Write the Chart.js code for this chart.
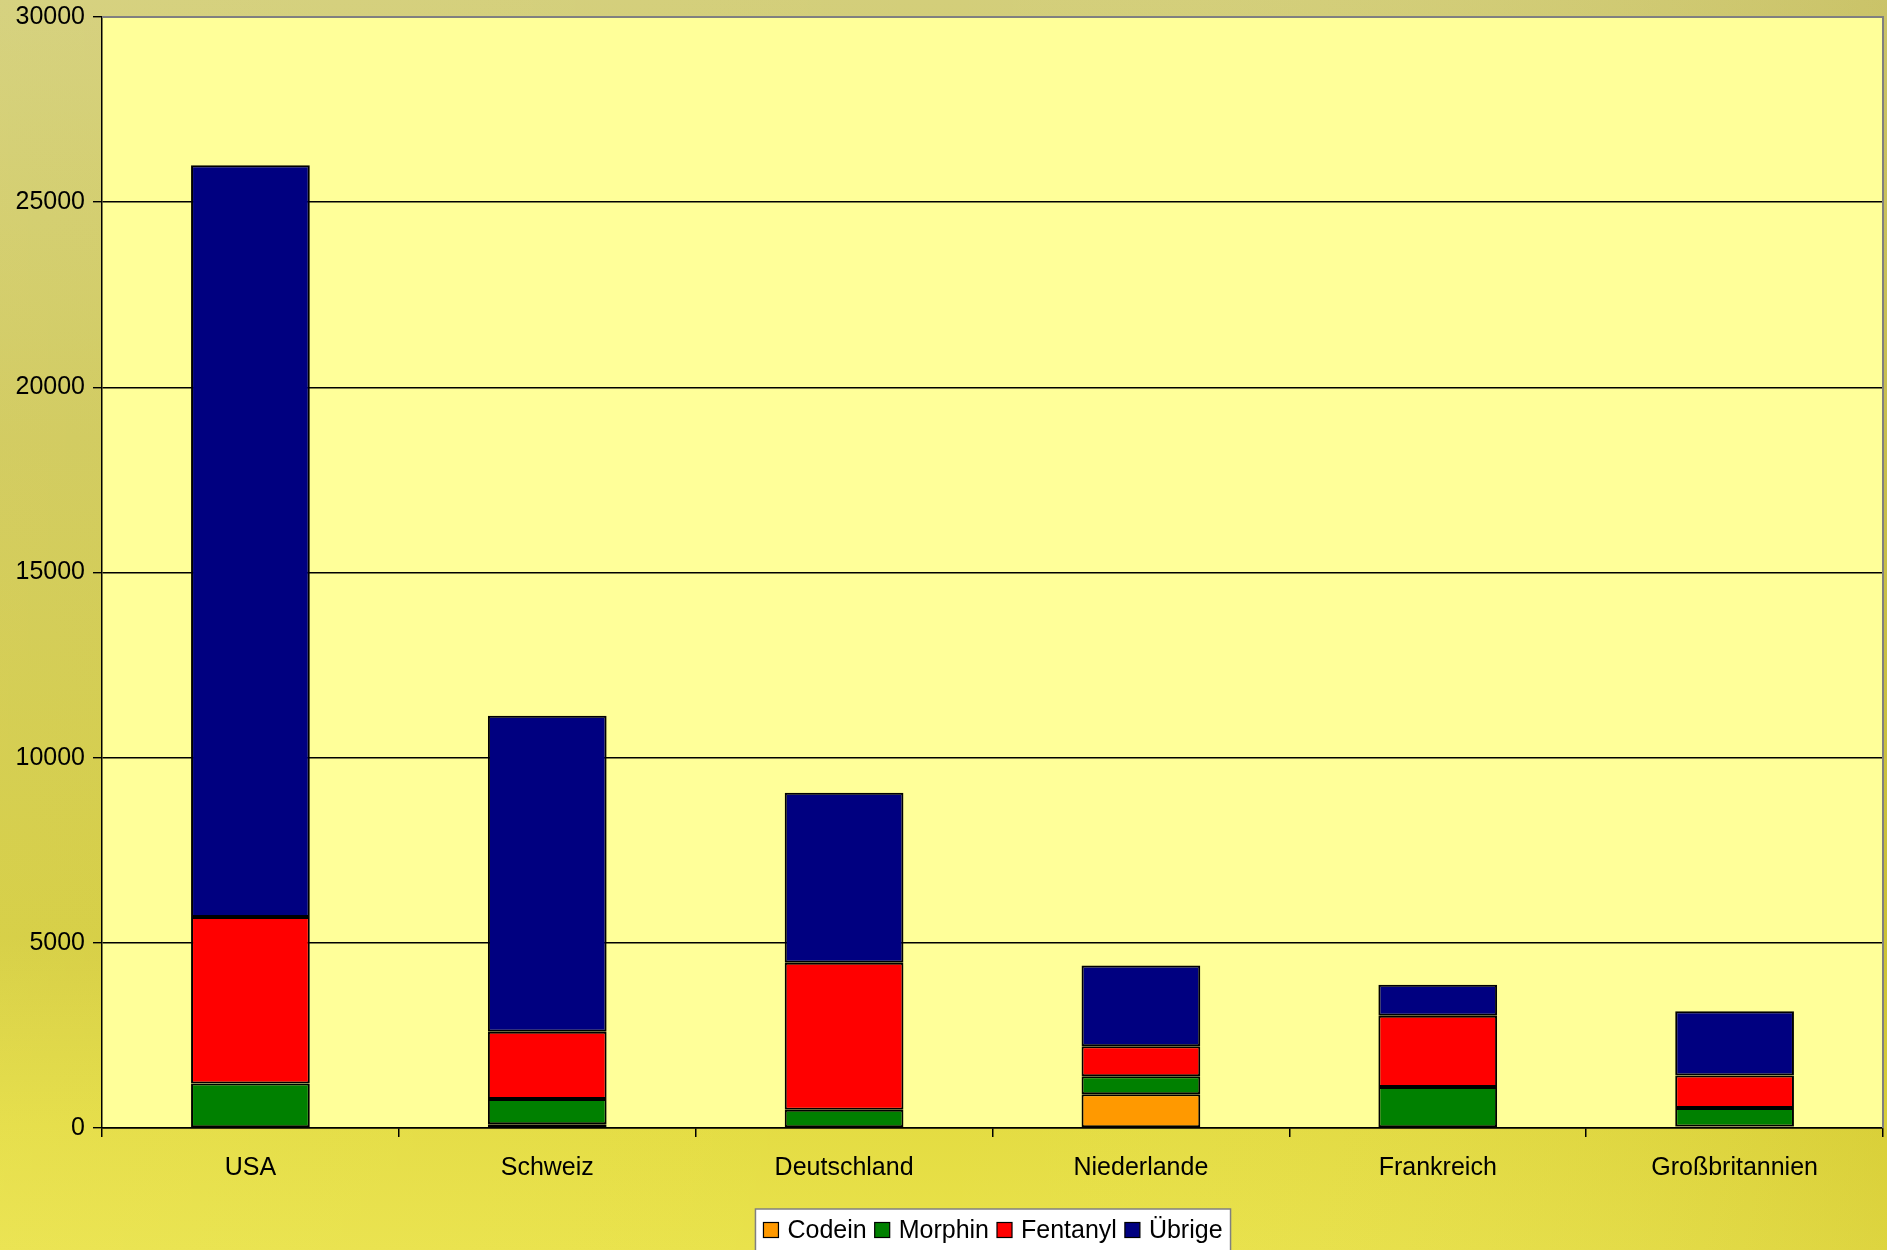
<!DOCTYPE html>
<html>
<head>
<meta charset="utf-8">
<script src="https://cdn.jsdelivr.net/npm/chart.js@4.4.1/dist/chart.umd.min.js"></script>
<style>
html, body { margin: 0; padding: 0; overflow: hidden; background: #d8d25a; }
</style>
</head>
<body>
<canvas id="chart" width="1887" height="1250"></canvas>
<script>
// data
const categories = [ "USA", "Schweiz", "Deutschland", "Niederlande", "Frankreich", "Großbritannien" ];
const seriesNames = [ "Codein", "Morphin", "Fentanyl", "Übrige" ];
const codein   = [ 0, 100, 0, 910, 0, 40 ];
const morphin  = [ 1200, 680, 490, 490, 1110, 500 ];
const fentanyl = [ 4500, 1820, 3970, 810, 1920, 880 ];
const uebrige  = [ 20300, 8530, 4590, 2180, 840, 1730 ];
const yMax = 30000;
const yStep = 5000;

const colors = [ "#FF9900", "#008000", "#FF0000", "#000080" ];
const seriesValues = [ codein, morphin, fentanyl, uebrige ];
const fontFamily = "'Liberation Sans', Arial, sans-serif";

// page background + plot area fill
const backgroundPlugin = {
	id: "bg",
	beforeDraw: function( chart ) {
		const ctx = chart.ctx, W = chart.width, H = chart.height, a = chart.chartArea;
		ctx.save();
		let g = ctx.createLinearGradient( 0, 0, 0, H );
		g.addColorStop( 0, "#d3ce7a" );
		g.addColorStop( 0.35, "#cfc85a" );
		g.addColorStop( 0.75, "#d4cc3e" );
		g.addColorStop( 0.9, "#e4dc42" );
		g.addColorStop( 1, "#e9e24a" );
		ctx.fillStyle = g;
		ctx.fillRect( 0, 0, W, H );
		let h = ctx.createLinearGradient( 0, 0, W, 0 );
		h.addColorStop( 0, "rgba(255,255,200,0.08)" );
		h.addColorStop( 0.5, "rgba(255,255,200,0)" );
		h.addColorStop( 1, "rgba(150,130,0,0.14)" );
		ctx.fillStyle = h;
		ctx.fillRect( 0, 0, W, H );
		ctx.fillStyle = "#FFFF99";
		ctx.fillRect( a.left, a.top, a.right - a.left, a.bottom - a.top );
		ctx.restore();
	},
	afterDraw: function( chart ) {
		const ctx = chart.ctx, a = chart.chartArea;
		ctx.save();
		// grey frame on top and right
		ctx.strokeStyle = "#808080";
		ctx.lineWidth = 2;
		ctx.beginPath();
		ctx.moveTo( a.left, a.top );
		ctx.lineTo( a.right, a.top );
		ctx.lineTo( a.right, a.bottom );
		ctx.stroke();

		// legend box
		ctx.font = "25px " + fontFamily;
		ctx.textBaseline = "middle";
		const sw = 15, gapTxt = 9, gapItem = 8, pad = 8;
		let widths = seriesNames.map( n => ctx.measureText( n ).width );
		let total = pad * 2 + widths.reduce( ( s, w ) => s + sw + gapTxt + w, 0 ) + gapItem * ( seriesNames.length - 1 );
		let cx = 993, top = 1209, cy = 1230;
		let x = cx - total / 2;
		ctx.fillStyle = "#ffffff";
		ctx.fillRect( x, top, total, 60 );
		ctx.strokeStyle = "#808080";
		ctx.lineWidth = 1.5;
		ctx.strokeRect( x, top, total, 60 );
		x += pad;
		seriesNames.forEach( function( name, i ) {
			ctx.fillStyle = colors[ i ];
			ctx.fillRect( x, cy - sw / 2, sw, sw );
			ctx.strokeStyle = "#000";
			ctx.lineWidth = 1.2;
			ctx.strokeRect( x, cy - sw / 2, sw, sw );
			x += sw + gapTxt;
			ctx.fillStyle = "#000";
			ctx.fillText( name, x, cy + 1 );
			x += widths[ i ] + gapItem;
		} );
		ctx.restore();
	}
};

const datasets = seriesNames.map( function( name, i ) {
	return {
		label: name,
		data: seriesValues[ i ],
		backgroundColor: colors[ i ],
		borderColor: "#000000",
		borderWidth: 2,
		borderSkipped: false,
		categoryPercentage: 1,
		barPercentage: 0.4
	};
} );

new Chart( document.getElementById( "chart" ), {
	type: "bar",
	data: { labels: categories, datasets: datasets },
	options: {
		responsive: false,
		animation: false,
		devicePixelRatio: 1,
		layout: { padding: { top: 17, right: 4, left: 0, bottom: 0 } },
		plugins: {
			legend: { display: false },
			tooltip: { enabled: false }
		},
		scales: {
			x: {
				stacked: true,
				offset: true,
				grid: { offset: true, drawOnChartArea: false, drawTicks: true, tickLength: 9, tickColor: "#000", lineWidth: 1.5 },
				border: { color: "#000", width: 1.5 },
				ticks: { color: "#000", font: { family: fontFamily, size: 25 }, padding: 16, maxRotation: 0 },
				afterFit: function( s ) { s.height = 122; s.paddingLeft = 0; s.paddingRight = 0; }
			},
			y: {
				stacked: true,
				min: 0,
				max: yMax,
				grid: {
					color: function( c ) { return c.tick && c.tick.value === yMax ? "rgba(0,0,0,0)" : "#000"; },
					tickColor: "#000",
					lineWidth: 1.4,
					drawTicks: true,
					tickLength: 9
				},
				border: { color: "#000", width: 1.5 },
				ticks: {
					stepSize: yStep,
					color: "#000",
					font: { family: fontFamily, size: 25 },
					padding: 8,
					callback: function( v ) { return String( v ); }
				},
				afterFit: function( s ) { s.width = 102; s.paddingTop = 0; s.paddingBottom = 0; }
			}
		}
	},
	plugins: [ backgroundPlugin ]
} );
</script>
</body>
</html>
